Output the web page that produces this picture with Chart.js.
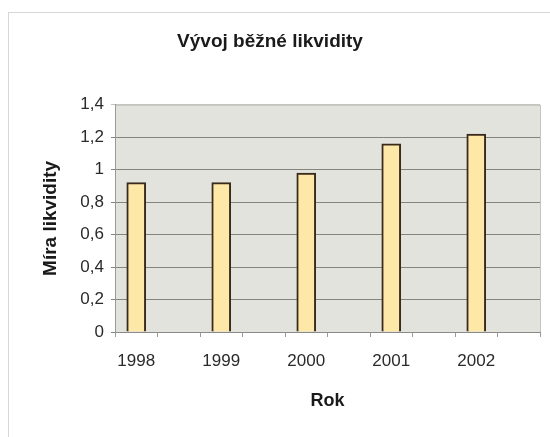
<!DOCTYPE html>
<html lang="cs">

<head>
    <meta charset="UTF-8">
    <title>Vývoj běžné likvidity</title>
    <script src="https://cdn.jsdelivr.net/npm/chart.js"></script>
    <style>
        html, body { margin: 0; padding: 0; background: #ffffff; }
        #wrap { width: 550px; height: 437px; }
    </style>
</head>

<body>
    <div id="wrap"><canvas id="likvidita" width="550" height="437"></canvas></div>

    <script>
        // data
        var years = ['1998', '1999', '2000', '2001', '2002'];
        var liquidity = [0.92, 0.92, 0.98, 1.16, 1.22];
        var yTicks = [0, 0.2, 0.4, 0.6, 0.8, 1, 1.2, 1.4];

        // the original axis has an empty slot after every year
        var labels = [];
        var values = [];
        years.forEach(function (y, i) {
            labels.push(y, '');
            values.push(liquidity[i], null);
        });

        // grey plot background + outer frame
        var backdrop = {
            id: 'backdrop',
            beforeDraw: function (chart) {
                var ctx = chart.ctx, a = chart.chartArea;
                ctx.save();
                ctx.strokeStyle = '#d6d6d6';
                ctx.lineWidth = 1;
                ctx.strokeRect(8.5, 12.5, 600, 500);
                ctx.fillStyle = '#e3e3dd';
                ctx.fillRect(a.left, a.top, a.right - a.left, a.bottom - a.top);
                ctx.strokeStyle = '#c4c4c0';
                ctx.strokeRect(a.left + 0.5, a.top + 0.5, a.right - a.left, a.bottom - a.top);
                ctx.restore();
            }
        };

        var ctx = document.getElementById('likvidita').getContext('2d');

        var chart = new Chart(ctx, {
            type: 'bar',
            data: {
                labels: labels,
                datasets: [{
                    label: 'Míra likvidity',
                    data: values,
                    backgroundColor: '#fde8a8',
                    borderColor: '#3a2a1c',
                    borderWidth: 2,
                    borderSkipped: 'bottom',
                    barThickness: 19
                }]
            },
            options: {
                responsive: false,
                animation: false,
                layout: { padding: { left: 0, right: 10, top: 0, bottom: 0 } },
                plugins: {
                    legend: { display: false },
                    tooltip: { enabled: false },
                    title: {
                        display: true,
                        text: 'Vývoj běžné likvidity',
                        color: '#1a1a1a',
                        font: { family: 'Arial, "Liberation Sans"', size: 19, weight: 'bold' },
                        padding: { top: 30, bottom: 52 }
                    }
                },
                scales: {
                    x: {
                        grid: {
                            display: true,
                            drawOnChartArea: false,
                            drawTicks: true,
                            tickLength: 5,
                            color: '#9a9a96'
                        },
                        border: { display: true, color: '#8a8a86' },
                        ticks: {
                            autoSkip: false,
                            maxRotation: 0,
                            padding: 14,
                            color: '#2a2a2a',
                            font: { family: 'Arial, "Liberation Sans"', size: 17 }
                        },
                        title: {
                            display: true,
                            text: 'Rok',
                            color: '#1a1a1a',
                            font: { family: 'Arial, "Liberation Sans"', size: 18, weight: 'bold' },
                            padding: { top: 0, bottom: 25 }
                        },
                        afterFit: function (scale) { scale.height = 105; }
                    },
                    y: {
                        min: 0,
                        max: 1.4,
                        afterBuildTicks: function (scale) {
                            scale.ticks = yTicks.map(function (v) { return { value: v }; });
                        },
                        grid: {
                            color: function (c) {
                                return c.tick && c.tick.value === 1.4 ? '#c4c4c0' : '#85857f';
                            },
                            tickLength: 4
                        },
                        border: { display: true, color: '#9a9a96' },
                        ticks: {
                            padding: 7,
                            color: '#2a2a2a',
                            font: { family: 'Arial, "Liberation Sans"', size: 17 },
                            callback: function (v) {
                                return Number(v.toFixed(1)).toString().replace('.', ',');
                            }
                        },
                        title: {
                            display: true,
                            text: 'Míra likvidity',
                            color: '#1a1a1a',
                            font: { family: 'Arial, "Liberation Sans"', size: 19, weight: 'bold' },
                            padding: { top: 39, bottom: 0 }
                        },
                        afterFit: function (scale) { scale.width = 115; }
                    }
                }
            },
            plugins: [backdrop]
        });
    </script>
</body>

</html>
